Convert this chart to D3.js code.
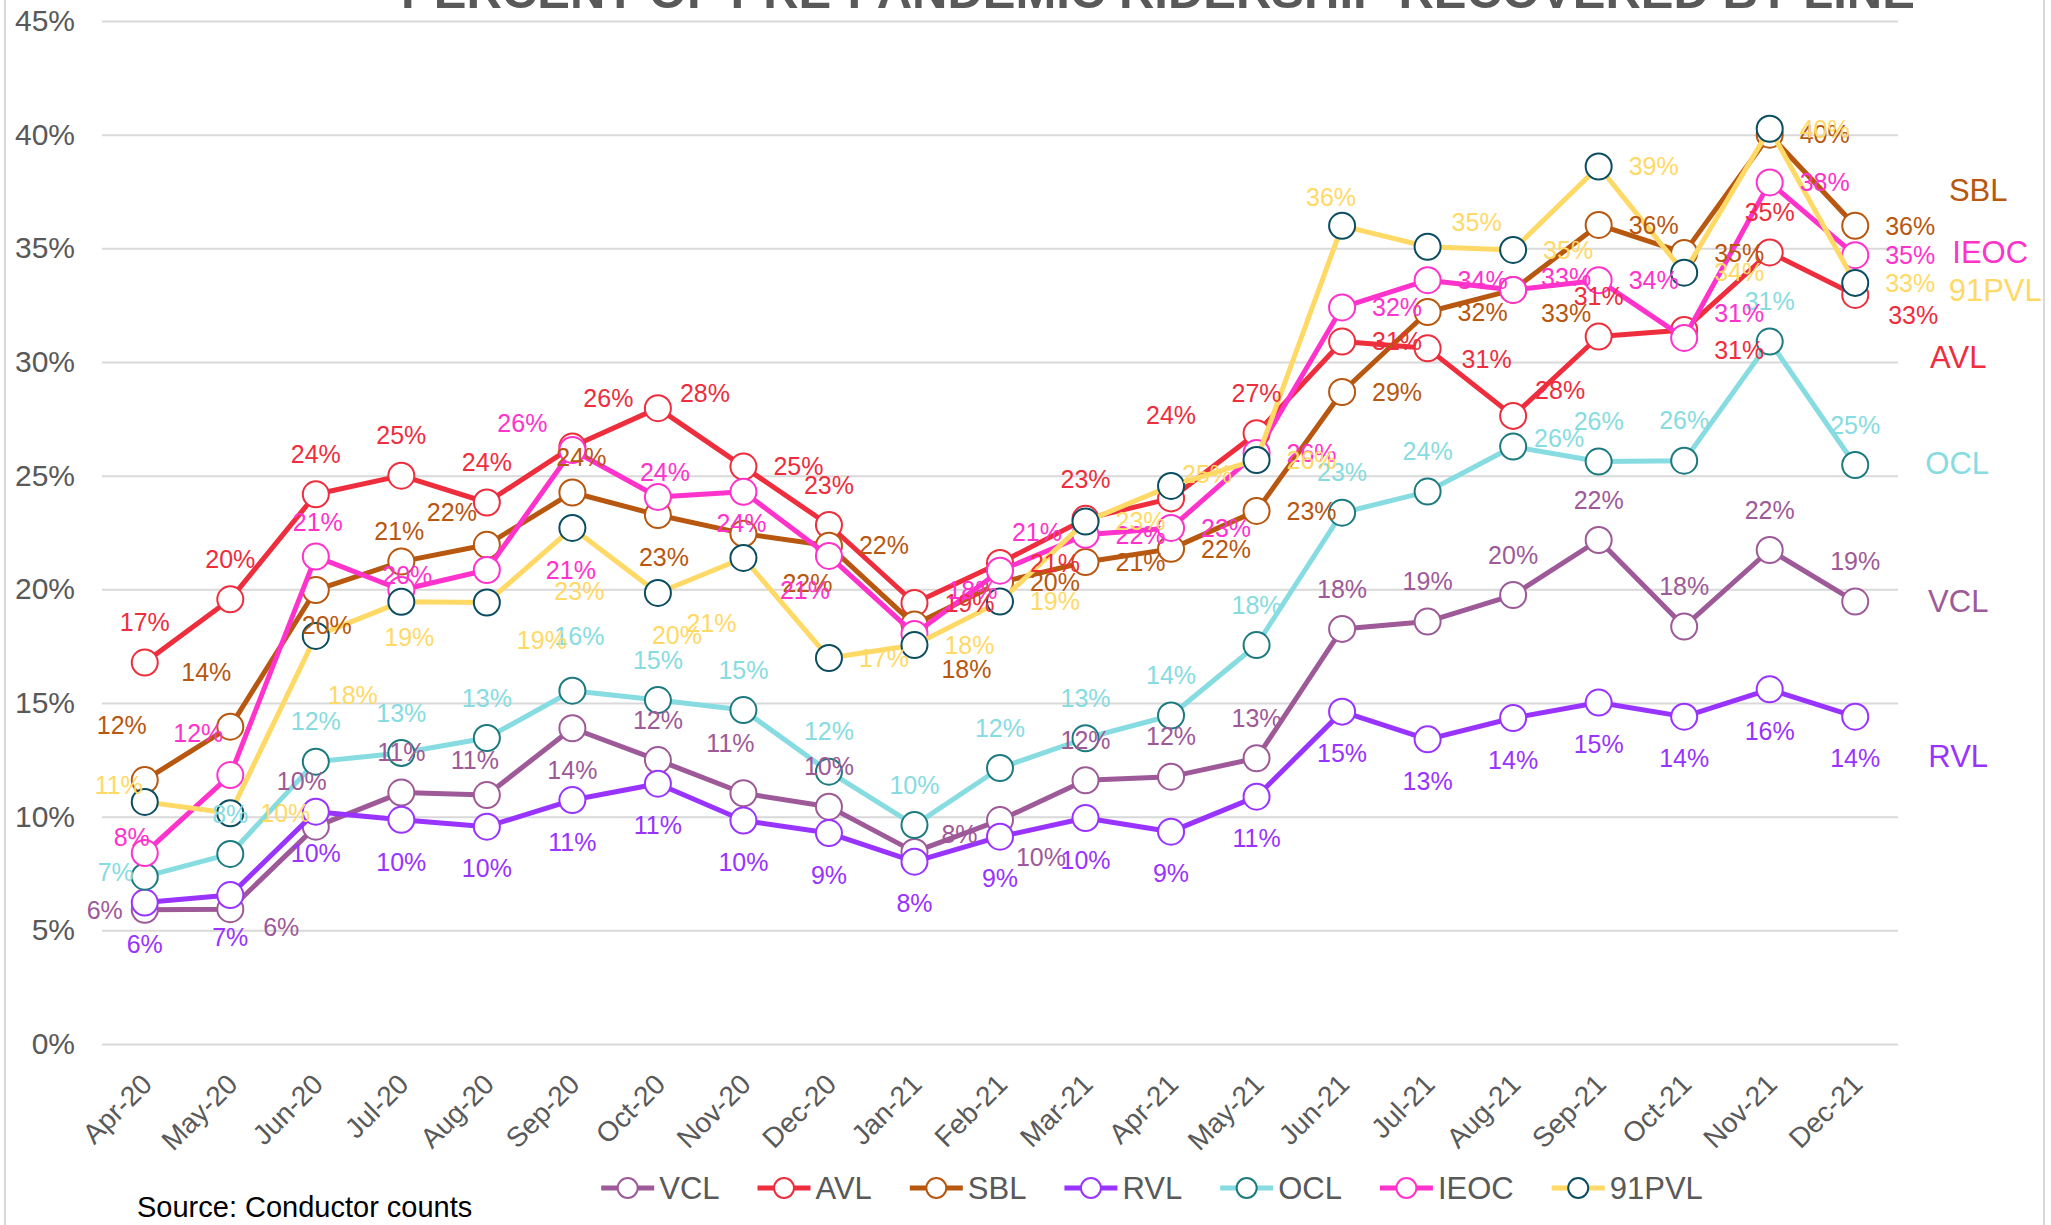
<!DOCTYPE html>
<html>
<head>
<meta charset="utf-8">
<title>Percent of pre-pandemic ridership recovered by line</title>
<script src="https://d3js.org/d3.v7.min.js"></script>
<style>
  body { margin: 0; background: #fff; }
  text { font-family: "Liberation Sans", Arial, sans-serif; }
</style>
</head>
<body>
<script>
var W = 2051, H = 1225;

// categories
var months = ["Apr-20","May-20","Jun-20","Jul-20","Aug-20","Sep-20","Oct-20","Nov-20","Dec-20",
              "Jan-21","Feb-21","Mar-21","Apr-21","May-21","Jun-21","Jul-21","Aug-21","Sep-21",
              "Oct-21","Nov-21","Dec-21"];

// percent of pre-pandemic ridership, per line
var vcl   = [5.9, 5.93, 9.56, 11.06, 10.95, 13.89, 12.49, 11.03, 10.44, 8.45, 9.85, 11.6, 11.76, 12.57, 18.26, 18.58, 19.75, 22.17, 18.36, 21.73, 19.46];
var avl   = [16.78, 19.56, 24.18, 25.0, 23.82, 26.28, 27.97, 25.4, 22.83, 19.4, 21.16, 23.1, 24.0, 26.87, 30.9, 30.6, 27.63, 31.12, 31.41, 34.82, 32.95];
var sbl   = [11.61, 13.96, 19.97, 21.22, 21.96, 24.26, 23.27, 22.45, 21.92, 18.45, 20.3, 21.2, 21.78, 23.45, 28.68, 32.2, 33.17, 36.03, 34.8, 40.0, 35.99];
var rvl   = [6.22, 6.55, 10.22, 9.86, 9.56, 10.73, 11.45, 9.83, 9.28, 8.02, 9.12, 9.94, 9.34, 10.88, 14.62, 13.4, 14.34, 15.02, 14.4, 15.6, 14.4];
var ocl   = [7.36, 8.36, 12.42, 12.8, 13.46, 15.54, 15.13, 14.69, 11.98, 9.63, 12.14, 13.45, 14.45, 17.55, 23.37, 24.3, 26.28, 25.62, 25.66, 30.9, 25.47];
var ieoc  = [8.4, 11.83, 21.44, 19.97, 20.85, 26.13, 24.06, 24.29, 21.47, 18.04, 20.82, 22.4, 22.7, 26.0, 32.4, 33.6, 33.17, 33.6, 31.06, 37.9, 34.7];
var pvl91 = [10.65, 10.15, 17.95, 19.45, 19.42, 22.7, 19.84, 21.38, 16.98, 17.55, 19.46, 22.98, 24.55, 25.69, 35.99, 35.07, 34.93, 38.6, 33.93, 40.26, 33.48];

var yTicks = [0, 5, 10, 15, 20, 25, 30, 35, 40, 45];

var series = [
  {name: "VCL",   values: vcl,   color: "#9E5A98", mark: "#9E5A98"},
  {name: "AVL",   values: avl,   color: "#EE2D3D", mark: "#EE2D3D"},
  {name: "SBL",   values: sbl,   color: "#B8570F", mark: "#B8570F"},
  {name: "RVL",   values: rvl,   color: "#9933FF", mark: "#9933FF"},
  {name: "OCL",   values: ocl,   color: "#86DCE0", mark: "#1D7B80"},
  {name: "IEOC",  values: ieoc,  color: "#FF33CC", mark: "#FF33CC"},
  {name: "91PVL", values: pvl91, color: "#FFD966", mark: "#0B4D61"}
];

// where each data label sits: a above, b below, r right, l left, q/w/e/z/d diagonals
var codeOff = {a:[0,-40], b:[0,42], r:[55,0], l:[-40,0], q:[45,-28], w:[-25,-50], e:[55,22], z:[-25,36], d:[58,45]};
var labelPos = {
  "VCL":   "leaaabaaaqeaaaaaaaaaa",
  "AVL":   "aaaaaqqrarraaarrqaeae",
  "SBL":   "wwbawabdrdrrrrrrerrrr",
  "RVL":   "bbbbbbbbbbbbbbbbbbbbb",
  "OCL":   "laaaaaaaaaaaaaaaraaaa",
  "IEOC":  "wwaarwabzqqrrrrrrrqrr",
  "91PVL": "wrbbebbzrrrrrrwqrrrrr"
};
var nudge = {
  "VCL":   {1:[51,18], 2:[-14,-45], 4:[-12,-35], 7:[-13,-50], 9:[45,-18], 10:[41,37]},
  "AVL":   {5:[36,-48], 6:[47,-15], 12:[0,-83], 15:[59,11], 16:[47,-26], 18:[55,20], 20:[58,20]},
  "SBL":   {0:[-23,-55], 1:[-24,-54], 2:[11,35], 3:[-2,-30], 4:[-35,-33], 5:[9,-35], 6:[6,42], 7:[64,50], 9:[52,45], 16:[53,23]},
  "RVL":   {},
  "OCL":   {0:[-29,-4], 5:[7,-54], 16:[46,-8]},
  "IEOC":  {0:[-13,-16], 1:[-32,-42], 2:[2,-34], 3:[6,-15], 4:[84,0], 5:[-50,-27], 6:[7,-25], 7:[-2,31], 8:[-24,34], 9:[58,-44], 10:[37,-38], 16:[53,-13], 18:[55,-25]},
  "91PVL": {0:[-26,-17], 2:[37,59], 3:[8,35], 4:[55,38], 5:[7,63], 6:[19,42], 7:[-32,65], 12:[36,-12], 14:[-11,-29], 15:[49,-24]}
};
// series name tags at the right end, offset from the last point
var tagOff = {"SBL":[123,-36], "IEOC":[135,-3], "91PVL":[140,7], "AVL":[103,62], "OCL":[102,-2], "VCL":[103,0], "RVL":[103,40]};

var gray = "#595959";
var plotL = 102, plotR = 1898, plotT = 21, plotB = 1044;

var svg = d3.select("body").append("svg").attr("width", W).attr("height", H);

// chart frame
svg.append("rect").attr("x", 5).attr("y", -10).attr("width", 2039).attr("height", H + 20)
  .attr("fill", "none").attr("stroke", "#d9d9d9").attr("stroke-width", 2);

var x = d3.scaleBand().domain(months).range([plotL, plotR]);
var y = d3.scaleLinear().domain([0, 45]).range([plotB, plotT]);
function cx(i) { return x(months[i]) + x.bandwidth() / 2; }

// y axis + gridlines
var yAxis = svg.append("g").attr("transform", "translate(" + plotL + ",0)")
  .call(d3.axisLeft(y).tickValues(yTicks).tickSize(-(plotR - plotL)).tickPadding(27)
        .tickFormat(function(d){ return d + "%"; }));
yAxis.select(".domain").remove();
yAxis.selectAll("line").attr("stroke", "#d9d9d9").attr("stroke-width", 2);
yAxis.selectAll("text").attr("fill", gray).attr("font-size", "30px")
  .style("font-family", '"Liberation Sans", Arial, sans-serif');

// x axis
var xAxis = svg.append("g").attr("transform", "translate(0," + plotB + ")")
  .call(d3.axisBottom(x).tickSize(0));
xAxis.select(".domain").remove();
xAxis.selectAll("text")
  .attr("y", 0).attr("dy", null)
  .attr("transform", "translate(9,42) rotate(-45)")
  .attr("text-anchor", "end")
  .attr("fill", gray).attr("font-size", "28px")
  .style("font-family", '"Liberation Sans", Arial, sans-serif');

// lines and markers
var line = d3.line().x(function(d, i){ return cx(i); }).y(function(d){ return y(d); });
series.forEach(function(s){
  var g = svg.append("g");
  g.append("path").attr("d", line(s.values)).attr("fill", "none")
    .attr("stroke", s.color).attr("stroke-width", 5).attr("stroke-linejoin", "round");
  g.selectAll("circle").data(s.values).enter().append("circle")
    .attr("cx", function(d, i){ return cx(i); })
    .attr("cy", function(d){ return y(d); })
    .attr("r", 13).attr("fill", "#fff")
    .attr("stroke", s.mark).attr("stroke-width", 2);
});

// data labels on top
series.forEach(function(s){
  var codes = labelPos[s.name], nd = nudge[s.name];
  svg.append("g").selectAll("text").data(s.values).enter().append("text")
    .attr("x", function(d, i){ var o = nd[i] || codeOff[codes[i]]; return cx(i) + o[0]; })
    .attr("y", function(d, i){ var o = nd[i] || codeOff[codes[i]]; return y(d) + o[1]; })
    .attr("dy", "0.35em").attr("text-anchor", "middle")
    .attr("font-size", "25px").attr("fill", s.color)
    .text(function(d){ return Math.round(d) + "%"; });
});

// series tags
series.forEach(function(s){
  var n = s.values.length - 1, o = tagOff[s.name];
  svg.append("text").attr("x", cx(n) + o[0]).attr("y", y(s.values[n]) + o[1])
    .attr("dy", "0.35em").attr("text-anchor", "middle")
    .attr("font-size", "31px").attr("fill", s.color).text(s.name);
});

// title (cut off at the top, as in the original)
svg.append("text").attr("x", 1158).attr("y", 8).attr("text-anchor", "middle")
  .attr("font-size", "49px").attr("font-weight", "bold").attr("fill", gray)
  .text("PERCENT OF PRE-PANDEMIC RIDERSHIP RECOVERED BY LINE");

// legend
var legend = svg.append("g");
var lx = 0;
series.forEach(function(s){
  var it = legend.append("g").attr("transform", "translate(" + lx + ",0)");
  it.append("line").attr("x1", 0).attr("x2", 53).attr("stroke", s.color).attr("stroke-width", 5);
  it.append("circle").attr("cx", 26.5).attr("r", 10).attr("fill", "#fff")
    .attr("stroke", s.mark).attr("stroke-width", 2);
  var t = it.append("text").attr("x", 58).attr("dy", "0.35em")
    .attr("font-size", "31px").attr("fill", gray).text(s.name);
  lx += 58 + t.node().getComputedTextLength() + 38;
});
var lw = lx - 38;
legend.attr("transform", "translate(" + (1152 - lw / 2) + ",1188)");

// source note
svg.append("text").attr("x", 137).attr("y", 1217).attr("font-size", "29px").attr("fill", "#000")
  .text("Source: Conductor counts");
</script>
</body>
</html>
